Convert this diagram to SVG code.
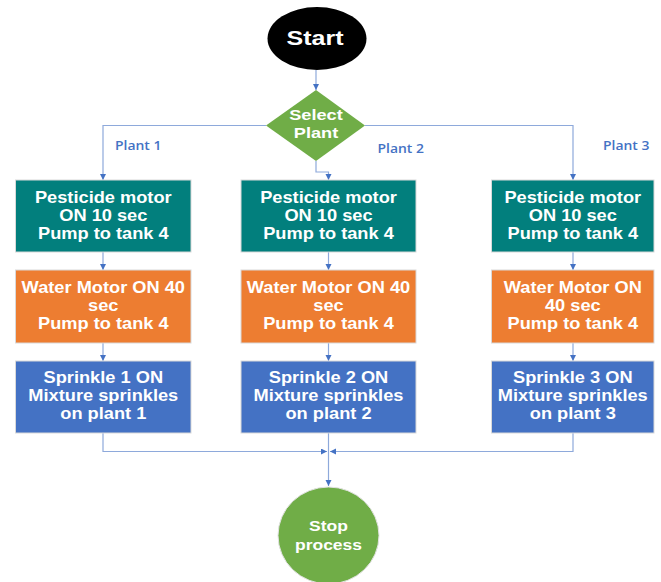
<svg xmlns="http://www.w3.org/2000/svg" width="661" height="582" viewBox="0 0 661 582">
<style>
.t{font-family:"Liberation Sans",Arial,sans-serif;font-weight:bold;fill:#fff;text-anchor:middle}
.bx{font-size:16px}
.lbl{font-family:"Open Sans","Liberation Sans",sans-serif;font-weight:600;font-size:12px;fill:#4472C4}
.ln{fill:none;stroke:#8EA9DB;stroke-width:1.2}
.box{stroke:#d9d9d9;stroke-width:1}
</style>
<defs>
<marker id="ah" markerUnits="userSpaceOnUse" markerWidth="7" markerHeight="7" refX="6" refY="3" orient="auto">
<path d="M0,0 L6,3 L0,6 z" fill="#4472C4"/>
</marker>
</defs>
<rect width="661" height="582" fill="#fff"/>

<g id="connectors">
<path class="ln" d="M316,70 V90" marker-end="url(#ah)"/>
<path class="ln" d="M266,125.5 H103 V180" marker-end="url(#ah)"/>
<path class="ln" d="M365,125.5 H573 V180" marker-end="url(#ah)"/>
<path class="ln" d="M316,161 V172 H328.5 V180" marker-end="url(#ah)"/>
<path class="ln" d="M103,252 V270" marker-end="url(#ah)"/>
<path class="ln" d="M328.5,252 V270" marker-end="url(#ah)"/>
<path class="ln" d="M573,252 V270" marker-end="url(#ah)"/>
<path class="ln" d="M103,343 V361" marker-end="url(#ah)"/>
<path class="ln" d="M328.5,343 V361" marker-end="url(#ah)"/>
<path class="ln" d="M573,343 V361" marker-end="url(#ah)"/>
<path class="ln" d="M103,433 V451.5 H327" marker-end="url(#ah)"/>
<path class="ln" d="M573,433 V451.5 H330" marker-end="url(#ah)"/>
<path class="ln" d="M328.5,433 V486" marker-end="url(#ah)"/>
<text class="lbl" transform="translate(115,0) scale(1.16,1)" x="0" y="150" style="text-anchor:start">Plant 1</text>
<text class="lbl" transform="translate(377.5,0) scale(1.16,1)" x="0" y="152.7" style="text-anchor:start">Plant 2</text>
<text class="lbl" transform="translate(603,0) scale(1.16,1)" x="0" y="150" style="text-anchor:start">Plant 3</text>
</g>

<g id="start">
<ellipse cx="317" cy="38.5" rx="49.5" ry="31.5" fill="#000"/>
<text class="t" transform="translate(315,0) scale(1.25,1)" x="0" y="45" font-size="20">Start</text>
</g>

<g id="select">
<polygon points="316,90 365,125.5 316,161 266,125.5" fill="#70AD47"/>
<text class="t" transform="translate(316,0) scale(1.3,1)" font-size="14"><tspan x="0" y="120">Select</tspan><tspan x="0" y="138.3">Plant</tspan></text>
</g>

<g id="pest1">
<rect class="box" x="15.5" y="180" width="175.5" height="72" fill="#027F7D"/>
<text class="t bx" transform="translate(103.3,0) scale(1.14,1)"><tspan x="0" y="203">Pesticide motor</tspan><tspan x="0" y="221">ON 10 sec</tspan><tspan x="0" y="239">Pump to tank 4</tspan></text>
</g>
<g id="pest2">
<rect class="box" x="241" y="180" width="175" height="72" fill="#027F7D"/>
<text class="t bx" transform="translate(328.5,0) scale(1.14,1)"><tspan x="0" y="203">Pesticide motor</tspan><tspan x="0" y="221">ON 10 sec</tspan><tspan x="0" y="239">Pump to tank 4</tspan></text>
</g>
<g id="pest3">
<rect class="box" x="491.5" y="180" width="162.5" height="72" fill="#027F7D"/>
<text class="t bx" transform="translate(572.8,0) scale(1.14,1)"><tspan x="0" y="203">Pesticide motor</tspan><tspan x="0" y="221">ON 10 sec</tspan><tspan x="0" y="239">Pump to tank 4</tspan></text>
</g>

<g id="water1">
<rect class="box" x="15.5" y="270" width="175.5" height="73" fill="#ED7D31"/>
<text class="t bx" transform="translate(103.3,0) scale(1.14,1)"><tspan x="0" y="293.3">Water Motor ON 40</tspan><tspan x="0" y="311">sec</tspan><tspan x="0" y="329">Pump to tank 4</tspan></text>
</g>
<g id="water2">
<rect class="box" x="241" y="270" width="175" height="73" fill="#ED7D31"/>
<text class="t bx" transform="translate(328.5,0) scale(1.14,1)"><tspan x="0" y="293.3">Water Motor ON 40</tspan><tspan x="0" y="311">sec</tspan><tspan x="0" y="329">Pump to tank 4</tspan></text>
</g>
<g id="water3">
<rect class="box" x="491.5" y="270" width="162.5" height="73" fill="#ED7D31"/>
<text class="t bx" transform="translate(572.8,0) scale(1.14,1)"><tspan x="0" y="293.3">Water Motor ON</tspan><tspan x="0" y="311">40 sec</tspan><tspan x="0" y="329">Pump to tank 4</tspan></text>
</g>

<g id="sprinkle1">
<rect class="box" x="15.5" y="361" width="175.5" height="72" fill="#4472C4"/>
<text class="t bx" transform="translate(103.3,0) scale(1.14,1)"><tspan x="0" y="383.5">Sprinkle 1 ON</tspan><tspan x="0" y="401.5">Mixture sprinkles</tspan><tspan x="0" y="419.5">on plant 1</tspan></text>
</g>
<g id="sprinkle2">
<rect class="box" x="241" y="361" width="175" height="72" fill="#4472C4"/>
<text class="t bx" transform="translate(328.5,0) scale(1.14,1)"><tspan x="0" y="383.5">Sprinkle 2 ON</tspan><tspan x="0" y="401.5">Mixture sprinkles</tspan><tspan x="0" y="419.5">on plant 2</tspan></text>
</g>
<g id="sprinkle3">
<rect class="box" x="491.5" y="361" width="162.5" height="72" fill="#4472C4"/>
<text class="t bx" transform="translate(572.8,0) scale(1.14,1)"><tspan x="0" y="383.5">Sprinkle 3 ON</tspan><tspan x="0" y="401.5">Mixture sprinkles</tspan><tspan x="0" y="419.5">on plant 3</tspan></text>
</g>

<g id="stop">
<ellipse cx="328.5" cy="535.5" rx="50.5" ry="48.5" fill="#70AD47" stroke="#e3e3e3" stroke-width="1"/>
<text class="t" transform="translate(328.5,0) scale(1.25,1)" font-size="14"><tspan x="0" y="531">Stop</tspan><tspan x="0" y="550">process</tspan></text>
</g>
</svg>
